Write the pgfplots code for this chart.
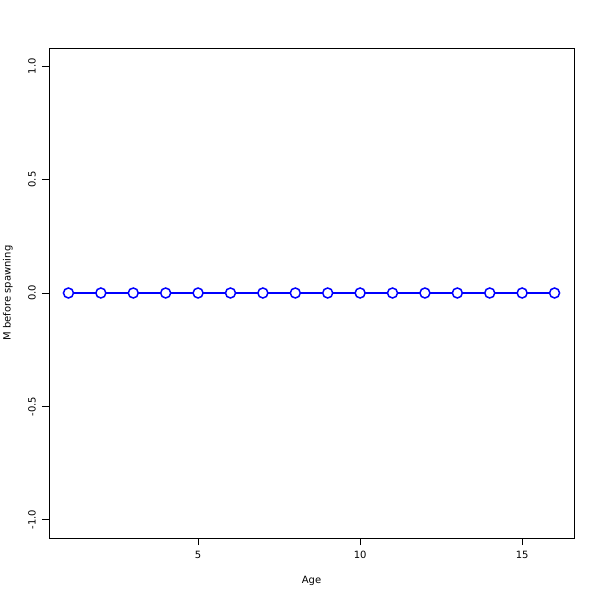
\documentclass[border=0pt]{standalone}
\usepackage{pgfplots}
\pgfplotsset{compat=1.18}
\usepackage{fontspec}
\setmainfont{DejaVu Sans}
\begin{document}
\fontsize{10bp}{12bp}\selectfont
\begin{tikzpicture}
\fill[white] (0,0) rectangle (600bp,600bp);
\useasboundingbox (0,0) rectangle (600bp,600bp);
\begin{axis}[
  at={(49bp,62bp)}, anchor=south west,
  scale only axis, width=525bp, height=490bp,
  xmin=0.4, xmax=16.6, ymin=-1.08, ymax=1.08,
  axis line style={black, line width=0.75bp},
  xtick={5,10,15}, xticklabels={5,10,15},
  ytick={-1,-0.5,0,0.5,1}, yticklabels={-1.0,-0.5,0.0,0.5,1.0},
  tick align=outside, tick pos=lower,
  major tick length=7bp,
  tick style={black, line width=0.75bp},
  xticklabel style={anchor=north, inner sep=0pt},
  yticklabel style={rotate=90, anchor=south, inner sep=0pt},
  xticklabel shift=6bp, yticklabel shift=6bp,
  xlabel={Age}, ylabel={M before spawning},
  xlabel style={at={(axis description cs:0.5,0)}, anchor=north, yshift=-38bp, inner sep=0pt},
  ylabel style={at={(axis description cs:0,0.5)}, anchor=south, yshift=36bp, inner sep=0pt},
  clip=false,
]
\addplot[blue, line width=1.5bp, mark=*, mark size=5bp, mark options={fill=white, draw=blue, line width=1.5bp}]
coordinates {(1,0)(2,0)(3,0)(4,0)(5,0)(6,0)(7,0)(8,0)(9,0)(10,0)(11,0)(12,0)(13,0)(14,0)(15,0)(16,0)};
\end{axis}
\end{tikzpicture}
\end{document}
